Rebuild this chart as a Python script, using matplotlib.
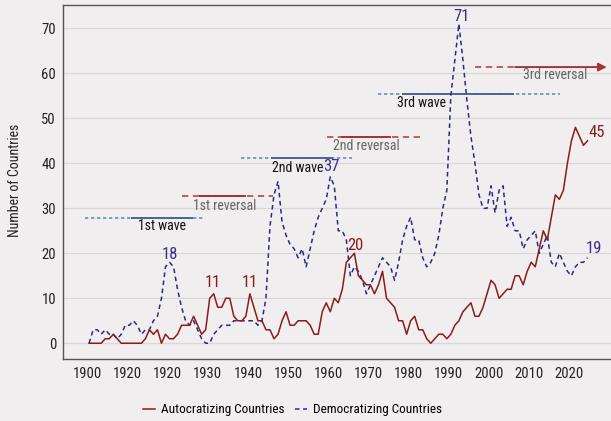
import numpy as np
import matplotlib
matplotlib.use("Agg")
import matplotlib.pyplot as plt
from matplotlib import font_manager
from matplotlib.lines import Line2D

# pick a narrow/condensed face if one is installed (the original uses a condensed font)
narrow = None
pref = ['Liberation Sans Narrow', 'Roboto Condensed', 'Open Sans Condensed',
        'Noto Sans Condensed', 'DejaVu Sans', 'Noto Sans', 'Roboto', 'Open Sans']
found = [f for f in font_manager.fontManager.ttflist
         if ('condensed' in f.fname.lower() or 'narrow' in f.fname.lower()
             or 'cond' in str(f.stretch))
         and f.style == 'normal' and f.weight in (400, 'normal', 'regular')
         and 'mono' not in f.fname.lower() and 'serif' not in f.name.lower()]
for p in pref:
    for f in found:
        if f.name == p:
            narrow = f
            break
    if narrow:
        break
if narrow is None and found:
    narrow = found[0]

if narrow is not None:
    plt.rcParams['font.family'] = [narrow.name, 'DejaVu Sans']
    plt.rcParams['font.stretch'] = narrow.stretch
    fs = 1.0
else:
    plt.rcParams['font.family'] = ['DejaVu Sans']
    fs = 0.82

# data: number of countries autocratizing / democratizing per year
years = list(range(1900, 2025))
autocratizing = [
    0, 0, 0, 0, 1, 1, 2, 1, 0, 0,          # 1900s
    0, 0, 0, 0, 1, 3, 2, 3, 0, 2,          # 1910s
    1, 1, 2, 4, 4, 4, 6, 4, 2, 3,          # 1920s
    10, 11, 8, 8, 10, 10, 6, 5, 5, 6,      # 1930s
    11, 8, 5, 5, 3, 3, 1, 2, 5, 7,         # 1940s
    4, 4, 5, 5, 5, 4, 2, 2, 7, 9,          # 1950s
    7, 10, 9, 12, 18, 19, 20, 15, 14, 13,  # 1960s
    13, 11, 13, 16, 10, 9, 8, 5, 5, 2,     # 1970s
    5, 6, 3, 3, 1, 0, 1, 2, 2, 1,          # 1980s
    2, 4, 5, 7, 8, 9, 6, 6, 8, 11,         # 1990s
    14, 13, 10, 11, 12, 12, 15, 15, 13, 16,  # 2000s
    18, 17, 21, 25, 23, 28, 33, 32, 34, 40,  # 2010s
    45, 48, 46, 44, 45,                    # 2020s
]
democratizing = [
    0, 3, 3, 2, 3, 2, 2, 1, 2, 4,
    4, 5, 4, 2, 3, 3, 5, 6, 10, 17,
    18, 17, 12, 8, 5, 4, 5, 3, 1, 0,
    0, 2, 3, 4, 4, 4, 5, 5, 5, 5,
    5, 5, 4, 5, 10, 26, 33, 36, 27, 24,
    22, 21, 19, 21, 17, 21, 25, 28, 30, 32,
    37, 35, 25, 25, 23, 15, 17, 16, 14, 11,
    13, 15, 17, 19, 18, 17, 14, 18, 23, 26,
    28, 23, 23, 19, 17, 18, 20, 24, 30, 34,
    55, 63, 71, 63, 54, 46, 40, 33, 30, 30,
    35, 29, 34, 35, 26, 28, 25, 25, 21, 23,
    24, 25, 20, 22, 24, 18, 17, 20, 18, 16,
    15, 17, 18, 18, 19,
]

# waves and reversals (years)
eras = ['1st wave', '1st reversal', '2nd wave', '2nd reversal', '3rd wave', '3rd reversal']
era_kind = ['wave', 'reversal', 'wave', 'reversal', 'wave', 'reversal']
era_from = [1899.0, 1923.1, 1937.8, 1959.2, 1971.9, 1996.0]
era_core_from = [1910.7, 1927.6, 1945.5, 1962.9, 1978.1, 2006.0]
era_core_to = [1925.6, 1938.8, 1960.4, 1974.9, 2005.5, 2028.8]
era_to = [1928.4, 1945.8, 1965.4, 1983.1, 2017.2, 2028.8]

# layout of the era lines/labels
era_level = [27.8, 32.7, 41.1, 45.8, 55.4, 61.4]
era_text_x = [1912.2, 1925.9, 1945.4, 1960.7, 1976.7, 2008.0]
era_text_y = [26.0, 30.5, 39.0, 43.9, 53.5, 59.6]

# value call-outs
callouts = ['18', '11', '11', '37', '20', '71', '45', '19']
callout_x = [1920.0, 1930.8, 1940.0, 1960.4, 1966.2, 1992.7, 2026.2, 2025.7]
callout_y = [19.8, 13.4, 13.4, 39.2, 21.8, 72.7, 46.8, 21.1]
callout_series = ['dem', 'aut', 'aut', 'dem', 'aut', 'dem', 'aut', 'dem']

bg = '#f0eeef'
red = '#8b1c1c'
navy = '#2b2a86'
wave_col = '#6b8cc0'
wave_core = '#4a6794'
rev_col = '#c0504d'
rev_core = '#a23434'

fig = plt.figure(figsize=(6.11, 4.21), dpi=100, facecolor=bg)
ax = fig.add_axes([63 / 611, 1 - 359 / 421, 1 - 63 / 611, (359 - 5) / 421])
ax.set_facecolor(bg)

ax.set_xlim(1893.5, 2029.85)
ax.set_ylim(-3.5, 75.2)

ax.set_yticks(range(0, 71, 10))
ax.yaxis.grid(True, color='#d9d7d8', linewidth=0.9)
ax.set_axisbelow(True)
decades = list(range(1900, 2021, 10))
ax.set_xticks([d - 0.5 for d in decades])
ax.set_xticklabels(['1900', '1920', '1920', '1930', '1940', '1950', '1960',
                    '1970', '1980', '1990', '2000', '2010', '2020'])
ax.tick_params(axis='both', length=0, labelsize=10.5 * fs, colors='#222222')
ax.tick_params(axis='x', pad=6)
ax.tick_params(axis='y', pad=5)
for s in ['left', 'bottom', 'top']:
    ax.spines[s].set_color('#555555')
    ax.spines[s].set_linewidth(1.0)
ax.spines['right'].set_visible(False)

# era lines
for i, name in enumerate(eras):
    lvl = era_level[i]
    if era_kind[i] == 'wave':
        ax.plot([era_from[i], era_to[i]], [lvl, lvl], color=wave_col, lw=1.2,
                dashes=(2, 1.6), zorder=2)
        ax.plot([era_core_from[i], era_core_to[i]], [lvl, lvl], color=wave_core,
                lw=1.4, zorder=2.1)
        tcol = '#111111'
    else:
        if i == len(eras) - 1:
            ax.plot([era_from[i], era_core_from[i]], [lvl, lvl], color=rev_col,
                    lw=1.3, dashes=(3.5, 2.5), zorder=2)
            ax.annotate('', xy=(era_core_to[i], lvl), xytext=(era_core_from[i], lvl),
                        arrowprops=dict(arrowstyle='-|>', color=rev_core, lw=1.4,
                                        mutation_scale=12, shrinkA=0, shrinkB=0),
                        zorder=2.1)
        else:
            ax.plot([era_from[i], era_to[i]], [lvl, lvl], color=rev_col, lw=1.3,
                    dashes=(3.5, 2.5), zorder=2)
            ax.plot([era_core_from[i], era_core_to[i]], [lvl, lvl], color=rev_core,
                    lw=1.4, zorder=2.1)
        tcol = '#666666'
    ax.text(era_text_x[i], era_text_y[i], name, color=tcol, fontsize=10 * fs,
            ha='left', va='center', zorder=4)

ax.plot(years, democratizing, color=navy, lw=1.1, dashes=(3, 2.3), zorder=3)
ax.plot(years, autocratizing, color=red, lw=1.1, zorder=3)

for lab, cx, cy, ser in zip(callouts, callout_x, callout_y, callout_series):
    ax.text(cx, cy, lab, color=red if ser == 'aut' else '#3a2f8f', fontsize=12 * fs,
            ha='center', va='center', zorder=4)

fig.text(15 / 611, 1 - 180 / 421, 'Number of Countries', rotation=90,
         ha='center', va='center', fontsize=10 * fs, color='#222222')

handles = [Line2D([], [], color=red, lw=1.1),
           Line2D([], [], color=navy, lw=1.1, dashes=(3, 2.3))]
fig.legend(handles, ['Autocratizing Countries', 'Democratizing Countries'],
           loc='center', bbox_to_anchor=(292.5 / 611, 1 - 410 / 421), ncol=2,
           frameon=False, fontsize=9.5 * fs, handlelength=0.9, columnspacing=0.8,
           handletextpad=0.45)

fig.savefig('out.png', dpi=100, facecolor=bg)
